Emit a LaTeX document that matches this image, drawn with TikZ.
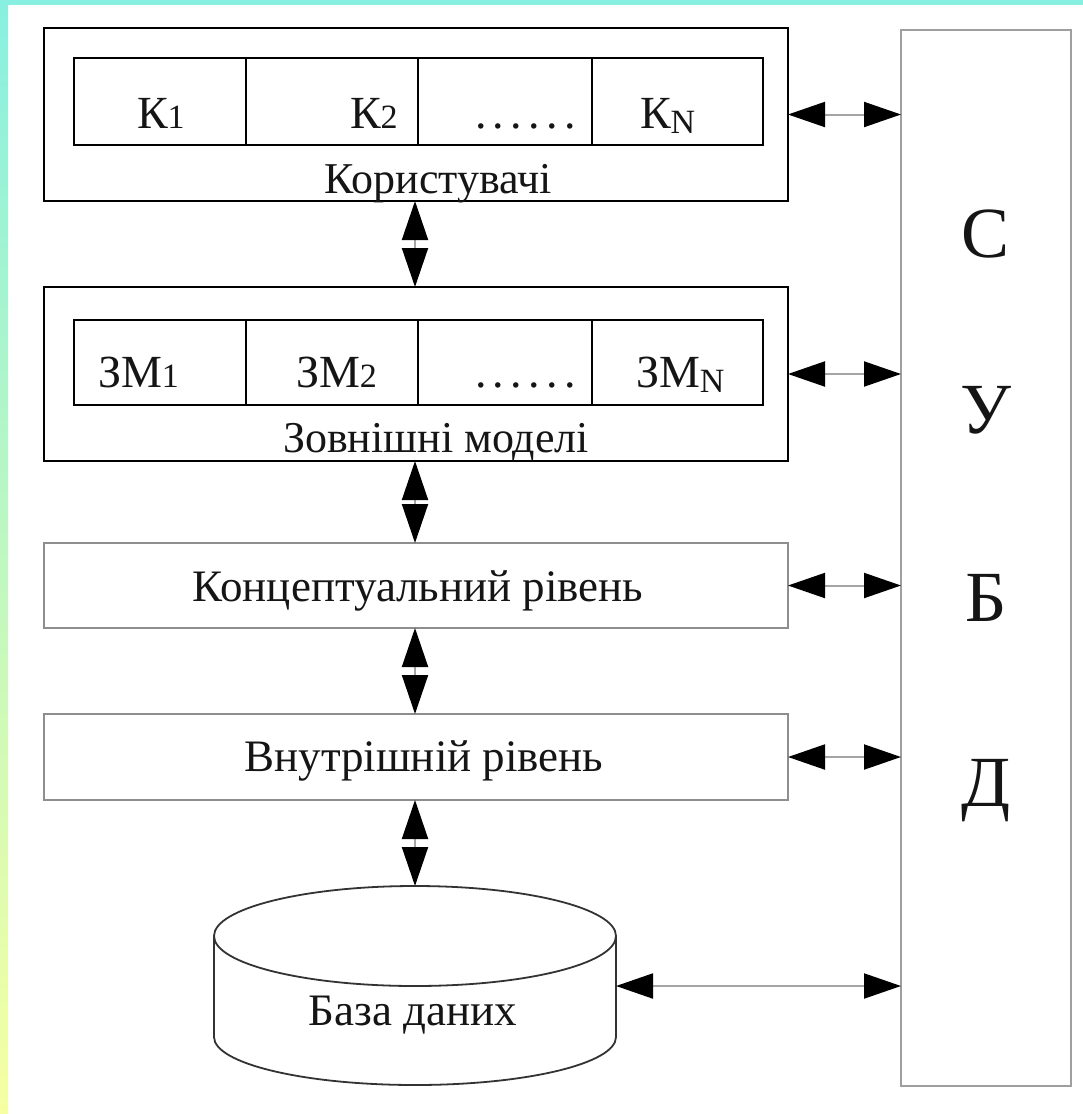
\documentclass[tikz,border=0pt]{standalone}
\usepackage{fontspec}
\setmainfont{Liberation Serif}
\usetikzlibrary{arrows.meta}
\definecolor{bandcyan}{HTML}{88F0E0}
\definecolor{bandyellow}{HTML}{F6FFA2}
\definecolor{lightframe}{HTML}{8E8E8E}
\definecolor{inktext}{HTML}{151515}
\newcommand{\subsz}[1]{{\fontsize{34}{34}\selectfont #1}}
\begin{document}
\begin{tikzpicture}[x=1pt,y=-1pt,
  darkbox/.style={draw=black,line width=2.4pt,inner sep=0pt,outer sep=0pt,fill=white},
  cellbox/.style={draw=black,line width=2pt,inner sep=0pt,outer sep=0pt},
  greybox/.style={draw=lightframe,line width=2.2pt,inner sep=0pt,outer sep=0pt,fill=white},
  lbl/.style={inner sep=0pt,outer sep=0pt,text=inktext,font=\fontsize{44}{50}\selectfont},
  celltxt/.style={inner sep=0pt,outer sep=0pt,text=inktext,font=\fontsize{46}{50}\selectfont},
  biglbl/.style={inner sep=0pt,outer sep=0pt,text=inktext,font=\fontsize{45}{50}\selectfont},
  letter/.style={inner sep=0pt,outer sep=0pt,text=inktext,font=\fontsize{72}{80}\selectfont,anchor=base},
  link/.style={draw=lightframe!80,line width=2pt,
    arrows={Triangle[length=37pt,width=25pt,color=black]-Triangle[length=37pt,width=25pt,color=black]}},
  vlink/.style={draw=lightframe!80,line width=2pt,
    arrows={Triangle[length=39pt,width=26pt,color=black]-Triangle[length=39pt,width=26pt,color=black]}}
]
% background and frame bands
\fill[white] (0,0) rectangle (1083,1114);
\useasboundingbox (0,0) rectangle (1083,1114);
\shade[top color=bandcyan,bottom color=bandyellow] (0,0) rectangle (8,1114);
\fill[bandcyan] (0,0) rectangle (1083,5);

% DBMS column
\node[draw=lightframe!85,line width=2pt,inner sep=0pt,outer sep=0pt,
  minimum width=170pt,minimum height=1056pt] (subd) at (986,558) {};
\node[letter] (sC) at (986,257) {С};
\node[letter] (sU) at (986,433) {У};
\node[letter] (sB) at (986,621) {Б};
\node[letter] (sD) at (986,806) {Д};

% users box
\node[darkbox,minimum width=744pt,minimum height=173pt] (users) at (416,114.5) {};
\node[cellbox,minimum width=172pt,minimum height=87pt] (u1) at (160,101.5) {};
\node[cellbox,minimum width=172pt,minimum height=87pt] (u2) at (332,101.5) {};
\node[cellbox,minimum width=174pt,minimum height=87pt] (u3) at (505,101.5) {};
\node[cellbox,minimum width=171pt,minimum height=87pt] (u4) at (677.5,101.5) {};
\node[celltxt,anchor=base west] (k1) at (137,128) {К\subsz{1}};
\node[celltxt,anchor=base west] (k2) at (350,128) {К\subsz{2}};
\node[celltxt,anchor=base west] (kd) at (475,128) {.\hspace{6.5pt}.\hspace{6.5pt}.\hspace{6.5pt}.\hspace{6.5pt}.\hspace{6.5pt}.};
\node[celltxt,anchor=base west] (kn) at (640,128) {К\raisebox{-5pt}{\subsz{N}}};
\node[lbl,anchor=base] (userslbl) at (438,193) {Користувачі};

% external models box
\node[darkbox,minimum width=744pt,minimum height=174pt] (models) at (416,374) {};
\node[cellbox,minimum width=172pt,minimum height=85pt] (m1) at (160,362.5) {};
\node[cellbox,minimum width=172pt,minimum height=85pt] (m2) at (332,362.5) {};
\node[cellbox,minimum width=174pt,minimum height=85pt] (m3) at (505,362.5) {};
\node[cellbox,minimum width=171pt,minimum height=85pt] (m4) at (677.5,362.5) {};
\node[celltxt,anchor=base west] (zm1) at (98,387) {ЗМ\subsz{1}};
\node[celltxt,anchor=base west] (zm2) at (296,387) {ЗМ\subsz{2}};
\node[celltxt,anchor=base west] (zmd) at (475,387) {.\hspace{6.5pt}.\hspace{6.5pt}.\hspace{6.5pt}.\hspace{6.5pt}.\hspace{6.5pt}.};
\node[celltxt,anchor=base west] (zmn) at (636,387) {ЗМ\raisebox{-5pt}{\subsz{N}}};
\node[lbl,anchor=base] (modelslbl) at (436,452) {Зовнішні моделі};

% conceptual and internal levels
\node[greybox,minimum width=744pt,minimum height=85pt] (concept) at (416,585.5) {};
\node[biglbl,anchor=base] (conceptlbl) at (418,601) {Концептуальний рівень};
\node[greybox,minimum width=744pt,minimum height=86pt] (inner) at (416,757) {};
\node[biglbl,anchor=base] (innerlbl) at (424,771) {Внутрішній рівень};

% database cylinder
\node[inner sep=0pt,outer sep=0pt,minimum width=402pt,minimum height=199pt] (db) at (415,985.5) {};
\draw[draw=black!80,line width=1.8pt,fill=white]
  (214,936) -- (214,1037) arc[start angle=180,end angle=0,x radius=201,y radius=48]
  -- (616,936) arc[start angle=0,end angle=-180,x radius=201,y radius=50] -- cycle;
\draw[draw=black!80,line width=1.8pt] (214,936) arc[start angle=180,end angle=0,x radius=201,y radius=50];
\node[biglbl,anchor=base] (dblbl) at (413,1025) {База даних};
\coordinate (dbR) at (616,986);

% vertical links
\draw[vlink] (users.south -| 415,0) -- (models.north -| 415,0);
\draw[vlink] (models.south -| 415,0) -- (concept.north -| 415,0);
\draw[vlink] (concept.south -| 415,0) -- (inner.north -| 415,0);
\draw[vlink] (inner.south -| 415,0) -- (db.north);

% horizontal links to DBMS
\draw[link] (users.east) -- (users.east -| subd.west);
\draw[link] (models.east) -- (models.east -| subd.west);
\draw[link] (concept.east) -- (concept.east -| subd.west);
\draw[link] (inner.east) -- (inner.east -| subd.west);
\draw[link] (dbR) -- (dbR -| subd.west);
\end{tikzpicture}
\end{document}
